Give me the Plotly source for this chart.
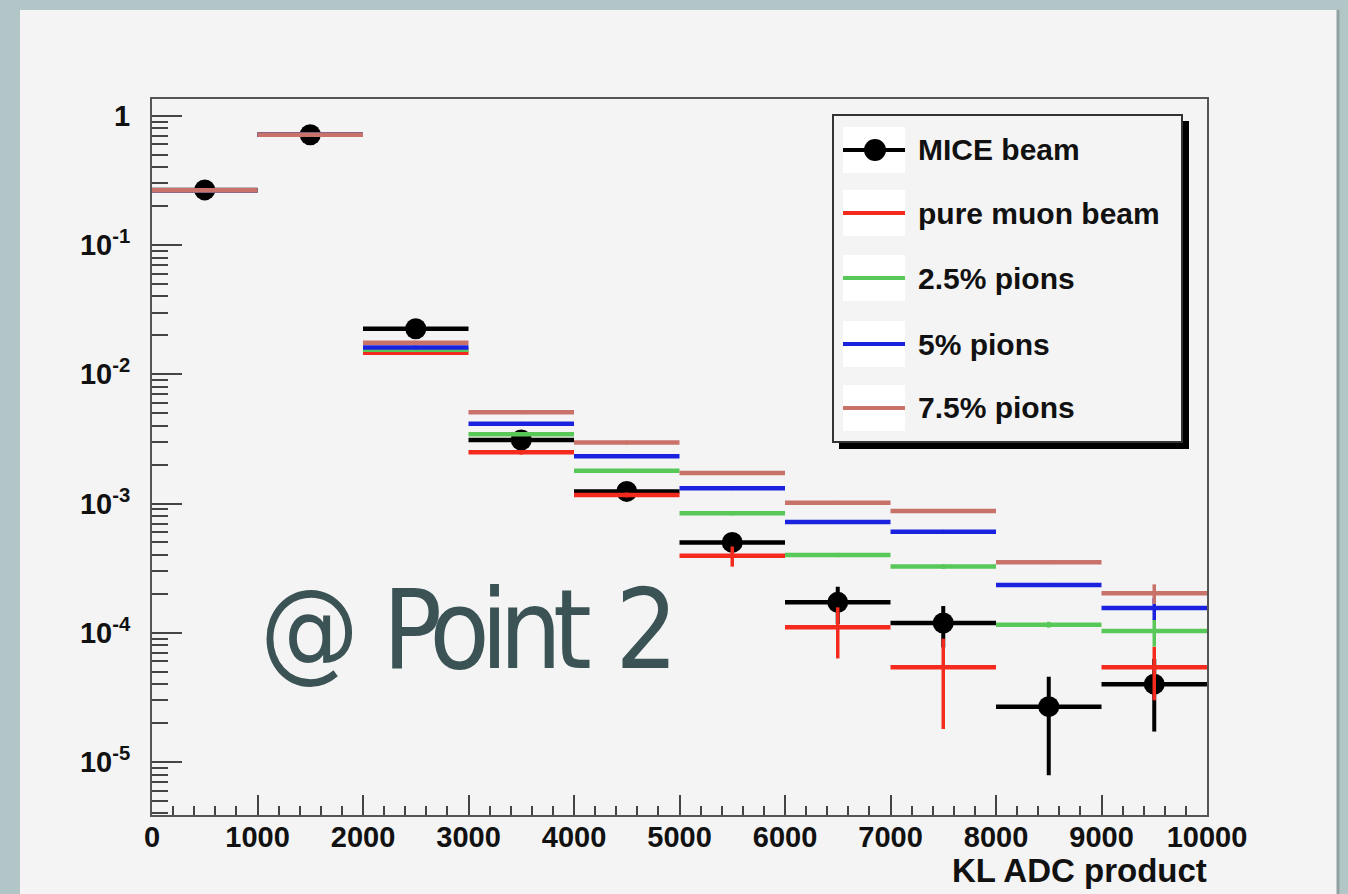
import plotly.graph_objects as go

# ---------------- data ----------------
bin_centers = [500, 1500, 2500, 3500, 4500, 5500, 6500, 7500, 8500, 9500]
bin_half_width = [500] * 10

mice_beam = [0.267, 0.713, 0.0225, 0.0031, 0.00124, 0.00050, 0.000172, 0.000119, 2.68e-5, 4.0e-5]
mice_beam_err = [0.006, 0.012, 0.0012, 0.0002, 0.00007, 0.00004, 5.5e-5, 4.2e-5, 1.89e-5, 2.28e-5]

pure_muon = [0.265, 0.713, 0.01465, 0.00249, 0.001166, 0.000395, 0.0001103, 5.4e-5, None, 5.4e-5]
pure_muon_err = [0.002, 0.003, 0.0004, 0.0001, 0.00005, 7e-5, 4.7e-5, 3.6e-5, None, 2.4e-5]

pions_25 = [0.265, 0.713, 0.01545, 0.00344, 0.00179, 0.000841, 0.000400, 0.000325, 0.0001155, 0.0001033]
pions_25_err = [0.002, 0.003, 0.0003, 0.0001, 0.00005, 0.00003, 1.5e-5, 1.3e-5, 6e-6, 2.5e-5]

pions_5 = [0.265, 0.713, 0.01615, 0.00415, 0.00232, 0.001313, 0.000721, 0.000606, 0.000234, 0.0001556]
pions_5_err = [0.002, 0.003, 0.0003, 0.00012, 0.00006, 0.00004, 2e-5, 1.8e-5, 8e-6, 3e-5]

pions_75 = [0.265, 0.713, 0.0175, 0.00509, 0.00296, 0.001725, 0.001016, 0.000877, 0.000351, 0.000202]
pions_75_err = [0.002, 0.003, 0.0003, 0.00012, 0.00007, 0.00005, 3e-5, 2.5e-5, 1e-5, 3.5e-5]

x_tick_vals = [0, 1000, 2000, 3000, 4000, 5000, 6000, 7000, 8000, 9000, 10000]
x_tick_text = ["0", "1000", "2000", "3000", "4000", "5000", "6000", "7000", "8000", "9000", "10000"]
y_tick_vals = [1e-5, 1e-4, 1e-3, 1e-2, 1e-1, 1]
y_tick_text = ["10<sup>-5</sup>", "10<sup>-4</sup>", "10<sup>-3</sup>", "10<sup>-2</sup>", "10<sup>-1</sup>", "1"]

series_names = ["MICE beam", "pure muon beam", "2.5% pions", "5% pions", "7.5% pions"]
series_colors = ["#000000", "#f42a1e", "#58c858", "#1a22e0", "#c8726a"]

# ---------------- layout geometry (pixels) ----------------
W, H = 1348, 894
L, R, T, B = 152, 1207, 99, 815


def xp(px):
    return (px - L) / (R - L)


def yp(py):
    return (B - py) / (B - T)


FONT = "Liberation Sans, Arial, sans-serif"

fig = go.Figure()

mc_series = [
    (pure_muon, pure_muon_err),
    (pions_25, pions_25_err),
    (pions_5, pions_5_err),
    (pions_75, pions_75_err),
]

fig.add_trace(go.Scatter(
    x=bin_centers, y=mice_beam, mode="markers", name=series_names[0],
    marker=dict(color=series_colors[0], size=21, symbol="circle"),
    error_x=dict(type="data", array=bin_half_width, color=series_colors[0], thickness=4.5, width=0),
    error_y=dict(type="data", array=mice_beam_err, color=series_colors[0], thickness=4, width=0),
))
for i, (vals, errs) in enumerate(mc_series):
    c = series_colors[i + 1]
    fig.add_trace(go.Scatter(
        x=bin_centers, y=vals, mode="markers", name=series_names[i + 1],
        marker=dict(color=c, size=4, symbol="circle"),
        error_x=dict(type="data", array=bin_half_width, color=c, thickness=4.5, width=0),
        error_y=dict(type="data", array=errs, color=c, thickness=3.5, width=0),
    ))

shapes = []
# slide panel
shapes.append(dict(type="rect", xref="paper", yref="paper",
                   x0=xp(20), x1=xp(1337), y0=yp(900), y1=yp(10),
                   fillcolor="#f4f4f4", line=dict(width=0), layer="below"))
shapes.append(dict(type="line", xref="paper", yref="paper",
                   x0=xp(1338), x1=xp(1338), y0=yp(900), y1=yp(10),
                   line=dict(color="#8fa2a3", width=3), layer="below"))

# legend box with shadow
shapes.append(dict(type="rect", xref="paper", yref="paper",
                   x0=xp(839), x1=xp(1189), y0=yp(449), y1=yp(121),
                   fillcolor="#000000", line=dict(width=0)))
shapes.append(dict(type="rect", xref="paper", yref="paper",
                   x0=xp(833), x1=xp(1182), y0=yp(442), y1=yp(115),
                   fillcolor="#f4f4f4", line=dict(color="#333333", width=2)))
entry_y = [150, 213, 278, 344, 408]
for k, ey in enumerate(entry_y):
    shapes.append(dict(type="rect", xref="paper", yref="paper",
                       x0=xp(843), x1=xp(905), y0=yp(ey + 23), y1=yp(ey - 23),
                       fillcolor="#ffffff", line=dict(width=0)))
    shapes.append(dict(type="line", xref="paper", yref="paper",
                       x0=xp(843), x1=xp(905), y0=yp(ey), y1=yp(ey),
                       line=dict(color=series_colors[k], width=4)))
    if k == 0:
        shapes.append(dict(type="circle", xref="paper", yref="paper",
                           x0=xp(864), x1=xp(886), y0=yp(ey + 11), y1=yp(ey - 11),
                           fillcolor="#000000", line=dict(width=0)))

annotations = []
for k, ey in enumerate(entry_y):
    annotations.append(dict(xref="paper", yref="paper", x=xp(916), y=yp(ey),
                            xanchor="left", yanchor="middle", showarrow=False,
                            text=series_names[k],
                            font=dict(family=FONT, size=30, color="#111111", weight="bold")))

annotations.append(dict(xref="paper", yref="paper", x=xp(1209), y=yp(870),
                        xanchor="right", yanchor="middle", showarrow=False,
                        text="KL ADC product",
                        font=dict(family=FONT, size=33, color="#111111", weight="bold")))

annotations.append(dict(xref="paper", yref="paper", x=xp(258), y=yp(630),
                        xanchor="left", yanchor="middle", showarrow=False,
                        text='<span style="letter-spacing:-9px;word-spacing:10px">@ Point 2</span>',
                        font=dict(family="Liberation Sans Narrow, DejaVu Sans Condensed, sans-serif",
                                  size=110, color="#3b5355")))

minor_y = [m * 10.0 ** k for k in range(-6, 1) for m in range(2, 10)]

fig.update_layout(
    width=W, height=H,
    margin=dict(l=L, r=W - R, t=T, b=H - B, pad=0),
    paper_bgcolor="#b3c6c7",
    plot_bgcolor="#f4f4f4",
    showlegend=False,
    shapes=shapes,
    annotations=annotations,
    xaxis=dict(
        range=[0, 10000], tickmode="array", tickvals=x_tick_vals, ticktext=x_tick_text,
        ticks="inside", ticklen=20, tickwidth=2, tickcolor="#444444",
        minor=dict(ticks="inside", ticklen=9, tickwidth=2, tickcolor="#444444",
                   tickmode="linear", tick0=0, dtick=200),
        showline=True, linecolor="#555555", linewidth=2, mirror=True,
        showgrid=False, zeroline=False,
        tickfont=dict(family=FONT, size=29, color="#111111", weight="bold"),
        ticklabelstandoff=-5,
    ),
    yaxis=dict(
        type="log", range=[-5.41, 0.13],
        tickmode="array", tickvals=y_tick_vals, ticktext=y_tick_text,
        ticks="inside", ticklen=30, tickwidth=2, tickcolor="#444444",
        minor=dict(ticks="inside", ticklen=16, tickwidth=2, tickcolor="#444444",
                   tickmode="array", tickvals=minor_y),
        showline=True, linecolor="#555555", linewidth=2, mirror=True,
        showgrid=False, zeroline=False,
        tickfont=dict(family=FONT, size=29, color="#111111", weight="bold"),
        ticklabelstandoff=14,
    ),
)

fig.write_html("out.html", config={"displayModeBar": False},
               post_script="document.body.style.margin='0';document.body.style.overflow='hidden';")
